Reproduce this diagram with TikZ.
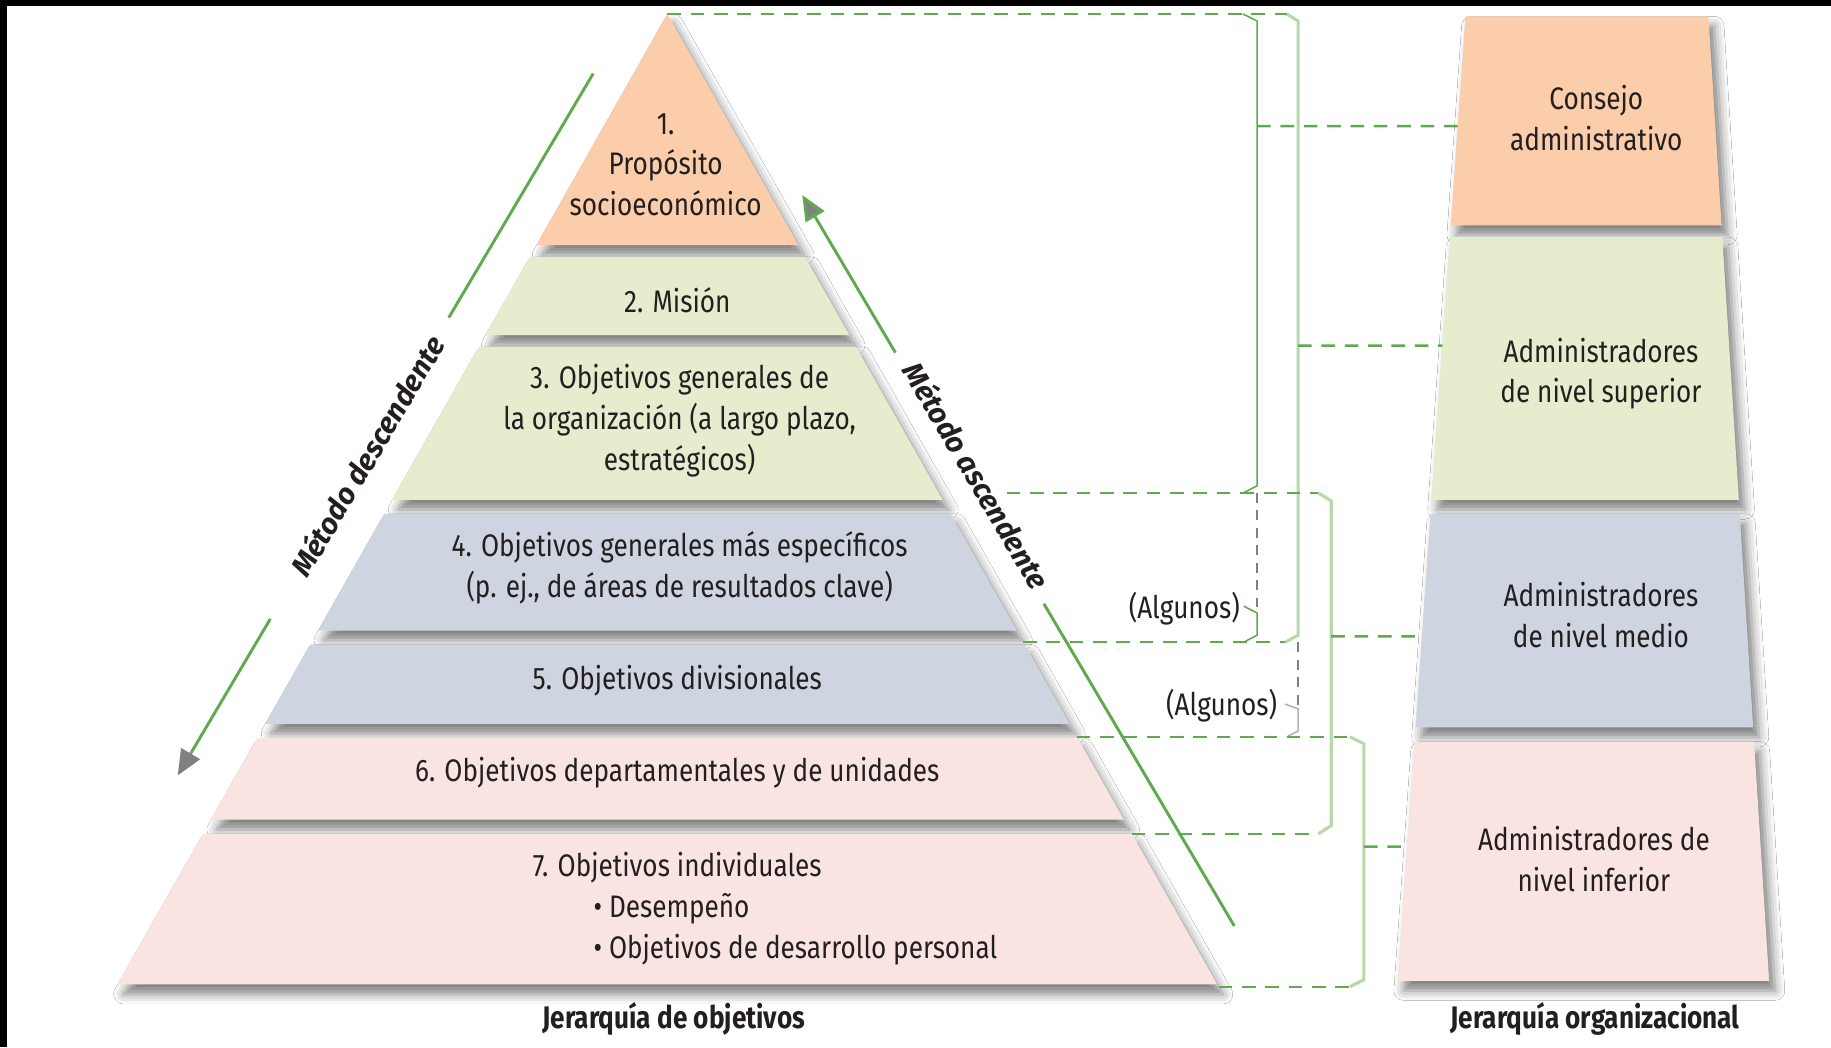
\documentclass[tikz,border=0pt]{standalone}
\usepackage{fontspec}
\setmainfont{Fira Sans}[FakeStretch=0.84]
\newfontfamily\methodfont{Fira Sans}
\usepackage{tikz}
\usetikzlibrary{arrows.meta, calc, shadows.blur}

\definecolor{topcol}{RGB}{251,205,170}
\definecolor{highcol}{RGB}{230,237,206}
\definecolor{midcol}{RGB}{206,212,224}
\definecolor{lowcol}{RGB}{249,228,226}
\definecolor{linegreen}{RGB}{95,170,78}
\definecolor{palegreen}{RGB}{184,216,170}
\definecolor{textcol}{RGB}{35,31,32}

\tikzset{
  band/.style={blur shadow={shadow xshift=3pt, shadow yshift=-5pt, shadow blur radius=5pt, shadow opacity=50}},
  bandtext/.style={align=center, font=\fontsize{16}{21}\selectfont, text=textcol, inner sep=0pt},
  link/.style={linegreen, line width=1.2pt, dash pattern=on 7pt off 5pt},
  brace/.style={linegreen, line width=0.8pt},
  palebrace/.style={palegreen, line width=1.6pt},
  greylink/.style={gray, line width=0.6pt, dash pattern=on 5pt off 4pt},
  method/.style={linegreen, line width=1.5pt},
  methodtext/.style={font=\methodfont\bfseries\itshape\fontsize{15}{17}\selectfont, text=textcol, inner sep=0pt},
  title/.style={font=\bfseries\fontsize{16}{19}\selectfont, text=textcol, inner sep=0pt}
}

\begin{document}
\begin{tikzpicture}[x=0.6pt, y=-0.6pt]
    % Frame of the picture
    \useasboundingbox (0,0) rectangle (1568,897);
    \fill[white] (0,0) rectangle (1568,897);
    \fill[black] (0,0) rectangle (1568,5);
    \fill[black] (0,0) rectangle (6,897);

    % Corners of the pyramid
    \coordinate (Apex) at (571.5,12);
    \coordinate (BaseL) at (100.7,843);
    \coordinate (BaseR) at (1042.3,843);

    % Draw the bands of the pyramid
    \foreach \t/\b/\col in {12/210/topcol, 220/287/highcol, 297/428/highcol, 440/540/midcol,
                            552/620/midcol, 632/702/lowcol, 714/843/lowcol}
        \fill[\col, band] ($(Apex)!{(\t-12)/831}!(BaseL)$) -- ($(Apex)!{(\b-12)/831}!(BaseL)$)
            -- ($(Apex)!{(\b-12)/831}!(BaseR)$) -- ($(Apex)!{(\t-12)/831}!(BaseR)$) -- cycle;

    % Corners of the organisational column
    \coordinate (OrgTL) at (1255,14);
    \coordinate (OrgTR) at (1463,14);
    \coordinate (OrgBL) at (1197,840);
    \coordinate (OrgBR) at (1515,840);

    % Draw the boxes of the organisational column
    \foreach \t/\b/\col in {14/193/topcol, 203/428/highcol, 440/623/midcol, 635/840/lowcol}
        \fill[\col, band] ($(OrgTL)!{(\t-14)/826}!(OrgBL)$) -- ($(OrgTL)!{(\b-14)/826}!(OrgBL)$)
            -- ($(OrgTR)!{(\b-14)/826}!(OrgBR)$) -- ($(OrgTR)!{(\t-14)/826}!(OrgBR)$) -- cycle;

    % Labels of the pyramid
    \node[bandtext] (Purpose) at (570,141) {1.\\Propósito\\socioeconómico};
    \node[bandtext] (Mission) at (580,257) {2. Misión};
    \node[bandtext] (General) at (582,360) {3. Objetivos generales de\\la organización (a largo plazo,\\estratégicos)};
    \node[bandtext] (Specific) at (582,486) {4. Objetivos generales más específicos\\(p. ej., de áreas de resultados clave)};
    \node[bandtext] (Division) at (580,583) {5. Objetivos divisionales};
    \node[bandtext] (Depart) at (580,662) {6. Objetivos departamentales y de unidades};
    \node[bandtext] (Person) at (580,743) {7. Objetivos individuales};
    \node[bandtext, anchor=west] (Perform) at (508,778) {• Desempeño};
    \node[bandtext, anchor=west] (Develop) at (508,813) {• Objetivos de desarrollo personal};

    % Labels of the organisational column
    \node[bandtext] (Board) at (1367,101) {Consejo\\administrativo};
    \node[bandtext] (Senior) at (1371,320) {Administradores\\de nivel superior};
    \node[bandtext] (Middle) at (1371,527) {Administradores\\de nivel medio};
    \node[bandtext] (Lower) at (1365,736) {Administradores de\\nivel inferior};

    % Titles
    \node[title] (PyrTitle) at (577,873) {Jerarquía de objetivos};
    \node[title] (OrgTitle) at (1366,873) {Jerarquía organizacional};

    % Method arrows
    \coordinate (D1) at (508,63);
    \coordinate (D2) at (384.3,272);
    \coordinate (D3) at (231.5,530);
    \coordinate (D4) at (152.2,664);
    \draw[method] (D1) -- (D2);
    \draw[method, -{Triangle[length=13pt, width=11pt, fill=gray, color=gray]}] (D3) -- (D4);
    \node[methodtext, rotate=59.4] (Down) at (314,390) {Método descendente};

    \coordinate (U1) at (1057,793);
    \coordinate (U2) at (893.9,517);
    \coordinate (U3) at (766.8,302);
    \coordinate (U4) at (687,167);
    \draw[method] (U1) -- (U2);
    \draw[method, -{Triangle[length=13pt, width=11pt, fill=gray]}] (U3) -- (U4);
    \node[methodtext, rotate=-59.4] (Up) at (837,407) {Método ascendente};

    % Brackets
    \draw[brace] (1064.5,12) -- (1076.5,18) -- (1076.5,416) -- (1065,422);
    \draw[greylink] (1076.5,422) -- (1076.5,520);
    \draw[brace] (1065,519) -- (1076.5,525) -- (1076.5,544) -- (1065,550);
    \draw[palebrace] (1102,12) -- (1111.6,18) -- (1111.6,544) -- (1100.5,550);
    \draw[greylink] (1111.6,550) -- (1111.6,604);
    \draw[gray!60, line width=0.8pt] (1100.5,603) -- (1111.6,607) -- (1111.6,626) -- (1102,631);
    \draw[palebrace] (1128.7,422) -- (1140,429) -- (1140,707) -- (1129,714);
    \draw[palebrace] (1156,631) -- (1168,637) -- (1168,839) -- (1156,845);

    % Dashed links
    \draw[link] (Apex) -- (1102,12);
    \draw[link] (862,422) -- (1128.7,422);
    \draw[link] (876,550) -- (1100.5,550);
    \draw[link] (922,631) -- (1156,631);
    \draw[link] (969,714) -- (1129,714);
    \draw[link] (1043.5,845) -- (1156,845);
    \draw[link] (1076.5,108) -- ($(OrgTL)!{(108-14)/826}!(OrgBL)$);
    \draw[link] (1111.6,296) -- ($(OrgTL)!{(296-14)/826}!(OrgBL)$);
    \draw[link] (1140,545) -- ($(OrgTL)!{(545-14)/826}!(OrgBL)$);
    \draw[link] (1168,725) -- ($(OrgTL)!{(725-14)/826}!(OrgBL)$);

    % Some levels
    \node[bandtext, anchor=east] (Some1) at (1062,521) {(Algunos)};
    \node[bandtext, anchor=east] (Some2) at (1094,604) {(Algunos)};
\end{tikzpicture}
\end{document}
